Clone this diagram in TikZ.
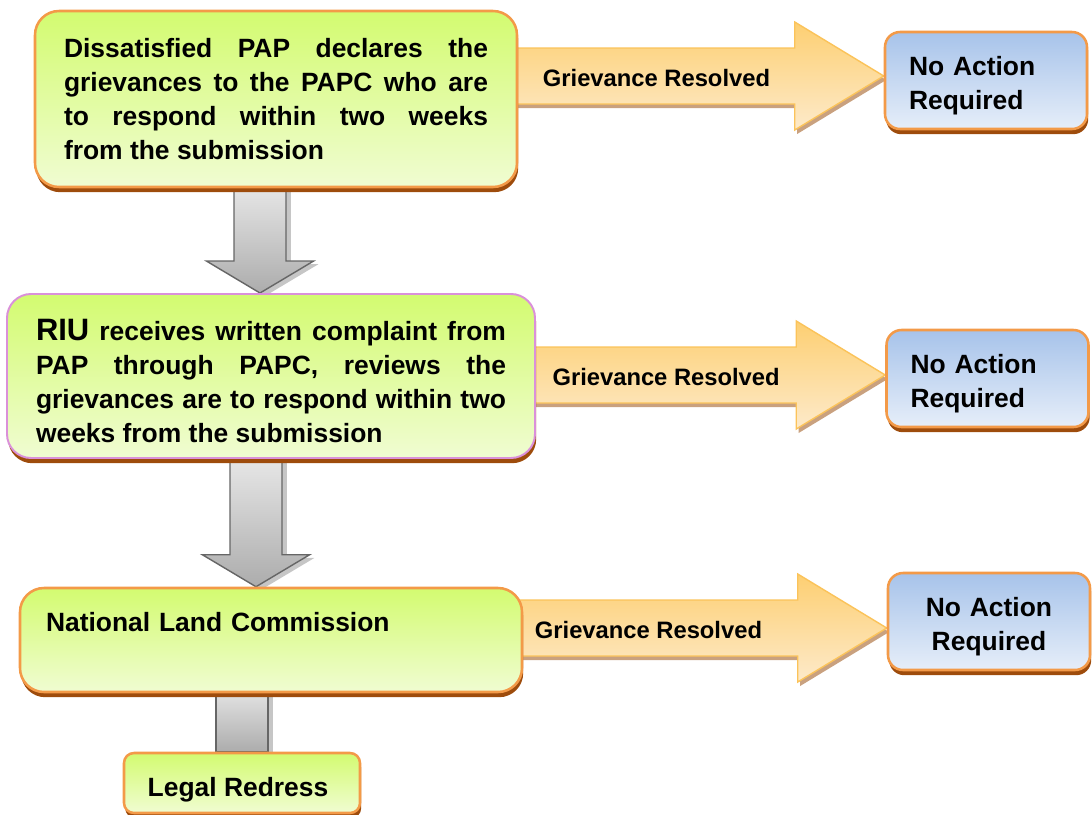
\documentclass[tikz,border=0pt]{standalone}
\usepackage{fontspec}
\setmainfont{Liberation Sans}
\usetikzlibrary{calc,shadows,backgrounds}
\definecolor{limetop}{HTML}{D3FB70}
\definecolor{limebot}{HTML}{F0FCD2}
\definecolor{boxorange}{HTML}{F39A48}
\definecolor{boxbrown}{HTML}{9E4C0C}
\definecolor{boxpink}{HTML}{DA90DA}
\definecolor{bluetop}{HTML}{A7C3EA}
\definecolor{bluebot}{HTML}{E6EEF9}
\definecolor{arrtop}{HTML}{FDCF72}
\definecolor{arrbot}{HTML}{FDEACA}
\definecolor{arredge}{HTML}{FBC35A}
\definecolor{arrshadow}{HTML}{C9A17F}
\definecolor{greyedge}{HTML}{666666}
\tikzset{
  stepbox/.style={rounded corners=0.6cm, draw=boxorange, line width=1.8pt,
    top color=limetop, bottom color=limebot,
    drop shadow={shadow xshift=0.03cm, shadow yshift=-0.13cm, fill=boxbrown, opacity=1},
    font=\bfseries\fontsize{18.8}{24.2}\selectfont, inner xsep=0.725cm, inner ysep=0.3cm},
  nabox/.style={rounded corners=0.375cm, draw=boxorange, line width=1.8pt,
    top color=bluetop, bottom color=bluebot,
    drop shadow={shadow xshift=0.03cm, shadow yshift=-0.13cm, fill=boxbrown, opacity=1},
    font=\bfseries\fontsize{18.8}{24.2}\selectfont, inner xsep=0.6cm, text width=3.85cm,
    text height=14pt, text depth=20.5pt, minimum width=5.05cm, minimum height=2.425cm},
  resarrow/.style={draw=arredge, line width=1pt, top color=arrtop, bottom color=arrbot,
    drop shadow={shadow xshift=0.06cm, shadow yshift=-0.1cm, fill=arrshadow, opacity=1}},
  restext/.style={font=\bfseries\fontsize{16.9}{20}\selectfont, inner sep=0pt},
  greyarrow/.style={draw=greyedge, line width=1pt, top color=gray!15, bottom color=gray!65,
    drop shadow={shadow xshift=0.12cm, shadow yshift=-0.08cm, fill=gray!45, opacity=1}}
}
\newcommand{\resolvedarrow}[5]{%
  \coordinate (#4a) at (#1.east |- 0,#3);
  \coordinate (#4s) at ($(#4a)+(-0.3,0)$);
  \coordinate (#4t) at (#2.west |- 0,#3);
  \coordinate (#4h) at ($(#4t)+(-2.225,0)$);
  \draw[resarrow] ($(#4s)+(0,0.7)$) -- ($(#4h)+(0,0.7)$) -- ($(#4h)+(0,1.35)$) -- (#4t)
    -- ($(#4h)+(0,-1.35)$) -- ($(#4h)+(0,-0.7)$) -- ($(#4s)+(0,-0.7)$) -- cycle;
  \node[restext] (#4) at ($(#4a)!0.5!(#4h)+(#5,-0.06)$) {Grievance Resolved};
}
\newcommand{\greydown}[3]{%
  \coordinate (#3s) at ($(#1)+(0,0.3)$);
  \coordinate (#3t) at (#3s |- #2);
  \draw[greyarrow] ($(#3s)+(-0.65,0)$) -- ($(#3t)+(-0.65,0.8)$) -- ($(#3t)+(-1.34,0.8)$) -- (#3t)
    -- ($(#3t)+(1.34,0.8)$) -- ($(#3t)+(0.65,0.8)$) -- ($(#3s)+(0.65,0)$) -- cycle;
}

\begin{document}
\begin{tikzpicture}[x=1cm, y=1cm]
  \useasboundingbox (0,0) rectangle (27.3,-20.375);
  \node[stepbox, text width=10.6cm, minimum height=4.4cm, align=justify] (b1) at (6.9,-2.475)
    {Dissatisfied PAP declares the\linebreak grievances to the PAPC who are\linebreak to respond within two weeks\linebreak from the submission};
  \node[stepbox, draw=boxpink, line width=1.4pt, text width=11.75cm, text height=15pt, text depth=65.8pt, minimum height=4.1cm, align=justify] (b2) at (6.775,-9.4)
    {{\fontsize{22}{24.2}\selectfont RIU} receives written complaint from\linebreak PAP through PAPC, reviews the\linebreak grievances are to respond within two\linebreak weeks from the submission};
  \node[stepbox, inner xsep=0.65cm, text width=11.25cm, align=left, text height=0.69cm, text depth=1.11cm, inner ysep=0.4cm] (b3) at (6.775,-16.0)
    {National Land Commission};
  \node[stepbox, rounded corners=0.25cm, inner xsep=0.2cm, inner ysep=0.2cm, text height=0.75cm, text depth=0.076cm, minimum width=5.9cm, minimum height=1.5cm] (lr) at (6.05,-19.575)
    {Legal Redress\hspace*{0.2cm}};
  \node[nabox, align=left] (na1) at (24.65,-2.0125) {No Action\\Required};
  \node[nabox, align=left] (na2) at (24.6875,-9.4625) {No Action\\Required};
  \node[nabox, align=center] (na3) at (24.725,-15.5375) {No Action\\Required};
  \begin{scope}[on background layer]
    \resolvedarrow{b1}{na1}{-1.9}{gr1}{0}
    \resolvedarrow{b2}{na2}{-9.375}{gr2}{0}
    \resolvedarrow{b3}{na3}{-15.7}{gr3}{-0.3}
    \greydown{$(b1.south)+(-0.4,0)$}{b2.north}{d1}
    \greydown{$(b2.south)+(-0.375,0)$}{b3.north}{d2}
    \draw[greyarrow] ($(lr.north |- b3.south)+(-0.65,0.3)$) rectangle ($(lr.north)+(0.65,0)$);
  \end{scope}
\end{tikzpicture}
\end{document}
